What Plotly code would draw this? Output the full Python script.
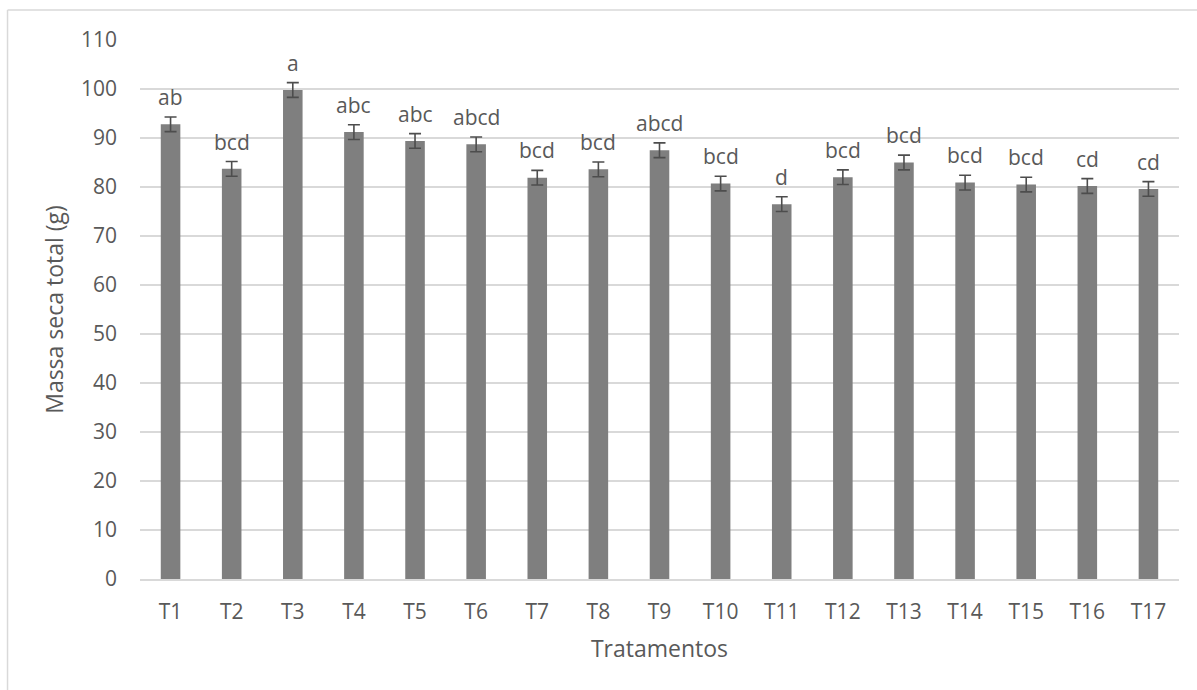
import plotly.graph_objects as go

# Total dry mass per treatment, standard error and significance letters
tratamentos = ["T1", "T2", "T3", "T4", "T5", "T6", "T7", "T8", "T9",
               "T10", "T11", "T12", "T13", "T14", "T15", "T16", "T17"]
massa_seca = [92.8, 83.7, 99.8, 91.2, 89.4, 88.7, 81.9, 83.6, 87.5,
              80.7, 76.5, 82.0, 85.0, 80.9, 80.5, 80.2, 79.6]
erro = [1.5] * 17
letras = ["ab", "bcd", "a", "abc", "abc", "abcd", "bcd", "bcd", "abcd",
          "bcd", "d", "bcd", "bcd", "bcd", "bcd", "cd", "cd"]
y_ticks = list(range(0, 111, 10))

FONT = "Open Sans, Lato, sans-serif"
TEXT = "#595959"
GRID = "#d9d9d9"

fig = go.Figure()
fig.add_trace(go.Bar(
    x=tratamentos,
    y=massa_seca,
    marker=dict(color="#7f7f7f", line=dict(width=0)),
    error_y=dict(type="data", array=erro, visible=True,
                 color="#4d4d4d", thickness=1.6, width=6),
    hoverinfo="x+y",
))

# Letters above each error bar
for t, v, e, l in zip(tratamentos, massa_seca, erro, letras):
    fig.add_annotation(x=t, y=v + e, text=l, showarrow=False,
                       xref="x", yref="y", yanchor="bottom", yshift=4,
                       font=dict(family=FONT, size=21, color=TEXT))

# Light chart-area frame (left and top edges)
fig.add_shape(type="line", xref="paper", yref="paper",
              x0=-0.1275, x1=-0.1275, y0=-0.25, y1=1.0557,
              line=dict(color=GRID, width=1.5))
fig.add_shape(type="line", xref="paper", yref="paper",
              x0=-0.1275, x1=1.05, y0=1.0557, y1=1.0557,
              line=dict(color=GRID, width=1.5))

fig.update_layout(
    width=1197, height=690,
    margin=dict(l=140, r=18, t=40, b=111),
    paper_bgcolor="white", plot_bgcolor="white",
    bargap=0.68,
    showlegend=False,
    font=dict(family=FONT, size=20, color=TEXT),
    xaxis=dict(
        title=dict(text="Tratamentos", font=dict(size=23, color=TEXT), standoff=17),
        showgrid=False, showline=True, linecolor=GRID, linewidth=1.5,
        ticks="", tickfont=dict(size=21, color=TEXT), ticklabelstandoff=13,
    ),
    yaxis=dict(
        title=dict(text="Massa seca total (g)", font=dict(size=23, color=TEXT), standoff=10),
        range=[0, 110], tickvals=y_ticks,
        showgrid=True, gridcolor=GRID, gridwidth=1.5,
        zeroline=False, showline=False,
        ticks="", tickfont=dict(size=21, color=TEXT), ticklabelstandoff=22,
    ),
)

fig.write_html("out.html")
